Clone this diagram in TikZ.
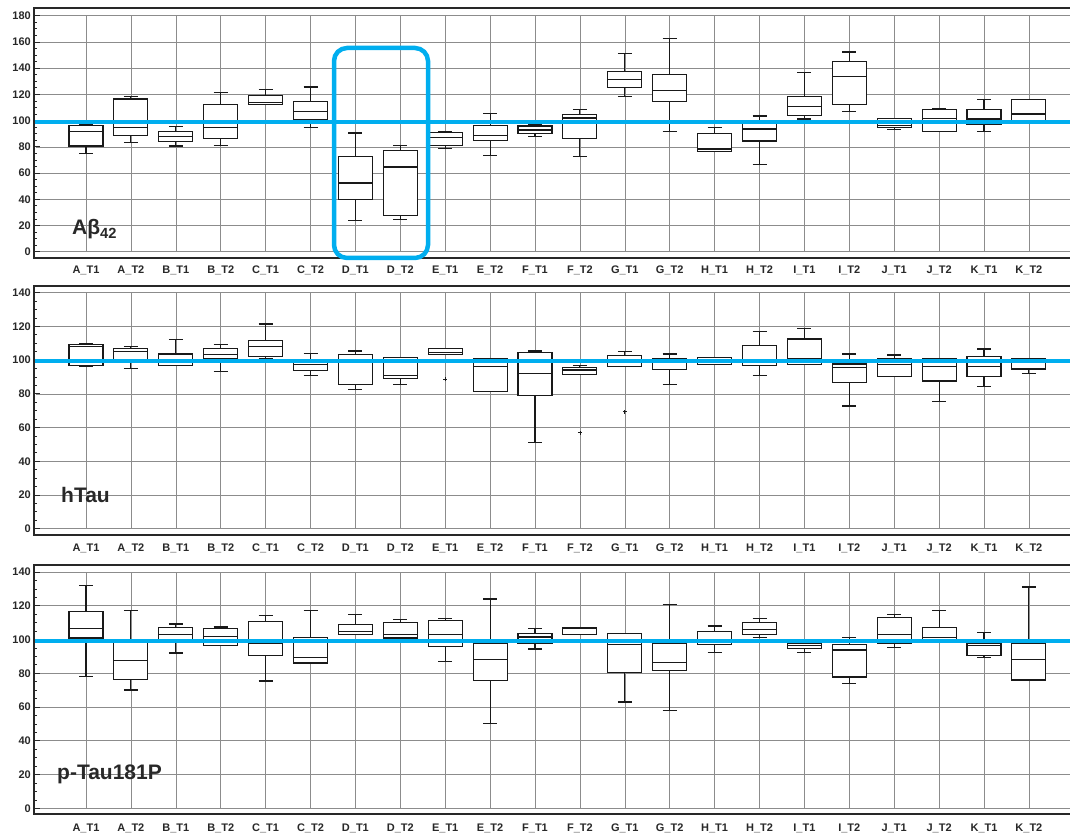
\documentclass[tikz,border=0pt]{standalone}
\usepackage{fontspec}
\setmainfont{Liberation Sans}
\usepackage{tikz}
\usepackage{xcolor}
\definecolor{refblue}{RGB}{0, 174, 239}
\definecolor{ink}{RGB}{40, 40, 40}
\tikzset{
  framebox/.style={draw=ink, line width=2pt},
  gridline/.style={draw=black!45, line width=0.6pt},
  tickmark/.style={draw=ink, line width=0.7pt},
  ticklabel/.style={anchor=east, inner sep=0pt, text=ink, font=\fontsize{11}{12}\selectfont\bfseries},
  catlabel/.style={inner sep=0pt, text=ink, font=\fontsize{11}{12}\selectfont\bfseries},
  panellabel/.style={anchor=base west, inner sep=0pt, text=ink, font=\fontsize{21}{24}\selectfont\bfseries},
  boxline/.style={draw=black!90, line width=1.1pt},
  refline/.style={draw=refblue, line width=4pt},
  hilite/.style={draw=refblue, line width=4.5pt, rounded corners=13pt}
}

\begin{document}
\begin{tikzpicture}[x=1pt, y=1pt]
    \useasboundingbox (0,0) rectangle (1070,836);

    % panel 1: Abeta42
    \begin{scope}[shift={(0,584.3)}, yscale=1.311]
        \foreach \v in {0,20,...,180} {
            \draw[gridline] (36,\v) -- (1075,\v);
            \draw[tickmark] (34,\v) -- ++(6,0);
            \node[ticklabel] (ya-\v) at (31,\v) {\v};
        }
        \foreach \v in {0,5,...,180} \draw[tickmark] (34,\v) -- ++(3,0);
        \foreach \i in {0,...,21} \draw[gridline] ({86+44.9*\i},0) -- ({86+44.9*\i},180);
        \foreach \i/\wl/\qa/\md/\qb/\wh in {0/75/80.6/92/96/97, 1/83/88.5/95/116.5/118.7,
            2/80.6/84/88/91.8/95.6, 3/81/86.4/94.6/112.4/121.5, 4/112.4/112.4/113.5/119/123.8,
            5/94.6/101/107/114.7/125.6, 6/23.9/40/52.4/72.5/90.5, 7/24.7/27.5/64.6/77.3/80.9,
            8/78.8/80.9/87.2/91/91.8, 9/73.7/85/88.7/96.1/105.5, 10/88/90/92.8/95.9/96.9,
            11/72.5/86.4/102/104.5/108.6, 12/118.7/125/131.5/137.3/151.3, 13/91.5/114.7/123/135.5/162.5,
            14/76.5/76.5/78.3/90/94.6, 15/66.4/84.4/93.6/97.9/103.5, 16/101.2/104/111/118.7/136.8,
            17/107/112.4/133.7/145/152.3, 18/93.3/94.8/96.6/101.4/101.4, 19/91.8/91.8/101.4/108.6/109.3,
            20/91.5/97.1/101.2/108.8/116, 21/99/99/105/116.2/116.2} {
            \draw[boxline] ({86+44.9*\i},\wl) -- ({86+44.9*\i},\qa) ({86+44.9*\i},\qb) -- ({86+44.9*\i},\wh);
            \draw[boxline] ({79+44.9*\i},\wl) -- ({93+44.9*\i},\wl) ({79+44.9*\i},\wh) -- ({93+44.9*\i},\wh);
            \draw[boxline, fill=white] ({69+44.9*\i},\qa) rectangle ({103+44.9*\i},\qb);
            \draw[boxline] ({69+44.9*\i},\md) -- ({103+44.9*\i},\md);
        }
        \draw[refline] (34,99) -- (1075,99);
        \draw[framebox] (34,-4.8) rectangle (1075,185.9);
    \end{scope}

    % panel 2: hTau
    \begin{scope}[shift={(0,307.3)}, yscale=1.686]
        \foreach \v in {0,20,...,140} {
            \draw[gridline] (36,\v) -- (1075,\v);
            \draw[tickmark] (34,\v) -- ++(6,0);
            \node[ticklabel] (yb-\v) at (31,\v) {\v};
        }
        \foreach \v in {0,5,...,140} \draw[tickmark] (34,\v) -- ++(3,0);
        \foreach \i in {0,...,21} \draw[gridline] ({86+44.9*\i},0) -- ({86+44.9*\i},140);
        \foreach \i/\wl/\qa/\md/\qb/\wh in {0/96.3/96.9/107.8/109.2/109.7, 1/94.9/99.5/105/106.8/108,
            2/96.9/96.9/99.3/103.6/112.3, 3/93/100.8/103.4/106.8/109, 4/101/102.2/107.8/111.7/121.4,
            5/90.6/93.7/97.3/99.5/103.8, 6/82.7/85.6/99.3/103.4/105.4, 7/85.4/89.2/91/101.4/101.4,
            8/103.4/103.4/104.6/107/107, 9/81.5/81.5/96.3/100.7/100.7, 10/51.2/79.1/92.1/104.6/105.4,
            11/91.6/91.6/94.1/95.5/96.7, 12/96.3/96.3/99.5/102.8/105, 13/85.6/94.5/99.3/100.8/103.6,
            14/97.5/97.5/99.5/101.4/101.4, 15/90.6/96.7/99.5/108.6/116.7, 16/97.5/97.5/100.8/112.5/118.6,
            17/72.8/86.8/95.7/97.7/103.6, 18/90.2/90.2/97.5/100.7/103, 19/75.7/87.6/96.3/100.7/100.7,
            20/84.4/90.2/96.1/102.2/106.6, 21/91.8/94.7/99.5/100.7/100.7} {
            \draw[boxline] ({86+44.9*\i},\wl) -- ({86+44.9*\i},\qa) ({86+44.9*\i},\qb) -- ({86+44.9*\i},\wh);
            \draw[boxline] ({79+44.9*\i},\wl) -- ({93+44.9*\i},\wl) ({79+44.9*\i},\wh) -- ({93+44.9*\i},\wh);
            \draw[boxline, fill=white] ({69+44.9*\i},\qa) rectangle ({103+44.9*\i},\qb);
            \draw[boxline] ({69+44.9*\i},\md) -- ({103+44.9*\i},\md);
        }
        % outliers
        \foreach \i/\v in {8/88.8, 11/57, 12/69.4}
            \draw[boxline, line width=0.8pt] ({84+44.9*\i},\v) -- ({88+44.9*\i},\v) ({86+44.9*\i},\v-1.2) -- ({86+44.9*\i},\v+1.2);
        \draw[refline] (34,99.5) -- (1075,99.5);
        \draw[framebox] (34,-3.7) rectangle (1075,143.9);
    \end{scope}

    % panel 3: p-Tau181P
    \begin{scope}[shift={(0,27.7)}, yscale=1.688]
        \foreach \v in {0,20,...,140} {
            \draw[gridline] (36,\v) -- (1075,\v);
            \draw[tickmark] (34,\v) -- ++(6,0);
            \node[ticklabel] (yc-\v) at (31,\v) {\v};
        }
        \foreach \v in {0,5,...,140} \draw[tickmark] (34,\v) -- ++(3,0);
        \foreach \i in {0,...,21} \draw[gridline] ({86+44.9*\i},0) -- ({86+44.9*\i},140);
        \foreach \i/\wl/\qa/\md/\qb/\wh in {0/78/100.9/106.6/116.5/131.9, 1/70.1/76.2/87.7/98.5/117.3,
            2/92/100.1/102.7/107/109.2, 3/96.2/96.2/101.9/106.6/107.4, 4/75.4/90.6/97.6/110.6/114.1,
            5/86.1/86.1/89.3/101.3/117.3, 6/102.7/102.7/104.9/109/114.7, 7/100.9/100.9/102.7/110/112,
            8/87.1/96/102.9/111.4/112.6, 9/50.2/75.8/88.3/97.7/124, 10/94.4/97.6/101.5/103.5/106.4,
            11/102.7/102.7/106.4/107/107, 12/63/80.4/97.2/103.5/103.5, 13/58/81.9/86.5/97.7/120.9,
            14/92.4/96.8/99/104.7/108, 15/101.3/102.9/105.8/110.2/112.4, 16/92.4/94.8/96.5/97.7/97.7,
            17/74/77.8/93.8/97.2/101.1, 18/95/97.6/103.1/113/114.9, 19/99/99/101.3/107.2/117.3,
            20/89.1/90.4/96.2/97.7/104, 21/76/76/88.1/97.7/131.1} {
            \draw[boxline] ({86+44.9*\i},\wl) -- ({86+44.9*\i},\qa) ({86+44.9*\i},\qb) -- ({86+44.9*\i},\wh);
            \draw[boxline] ({79+44.9*\i},\wl) -- ({93+44.9*\i},\wl) ({79+44.9*\i},\wh) -- ({93+44.9*\i},\wh);
            \draw[boxline, fill=white] ({69+44.9*\i},\qa) rectangle ({103+44.9*\i},\qb);
            \draw[boxline] ({69+44.9*\i},\md) -- ({103+44.9*\i},\md);
        }
        \draw[refline] (34,99) -- (1075,99);
        \draw[framebox] (34,-3.4) rectangle (1075,144.1);
    \end{scope}

    % category labels
    \foreach \g [count=\n from 0] in {A,B,C,D,E,F,G,H,I,J,K} {
        \foreach \t [count=\k from 0] in {T1,T2} {
            \node[catlabel] (ca-\g\t) at ({86+44.9*(2*\n+\k)},566) {\g\_\t};
            \node[catlabel] (cb-\g\t) at ({86+44.9*(2*\n+\k)},288) {\g\_\t};
            \node[catlabel] (cc-\g\t) at ({86+44.9*(2*\n+\k)},7.5) {\g\_\t};
        }
    }

    \node[panellabel] (abeta) at (72,601) {Aβ\textsubscript{42}};
    \node[panellabel] (htau) at (61,333.3) {hTau};
    \node[panellabel] (ptau) at (57,57) {p-Tau181P};

    % highlight D
    \draw[hilite] (334,578) rectangle (428,788);
\end{tikzpicture}
\end{document}
